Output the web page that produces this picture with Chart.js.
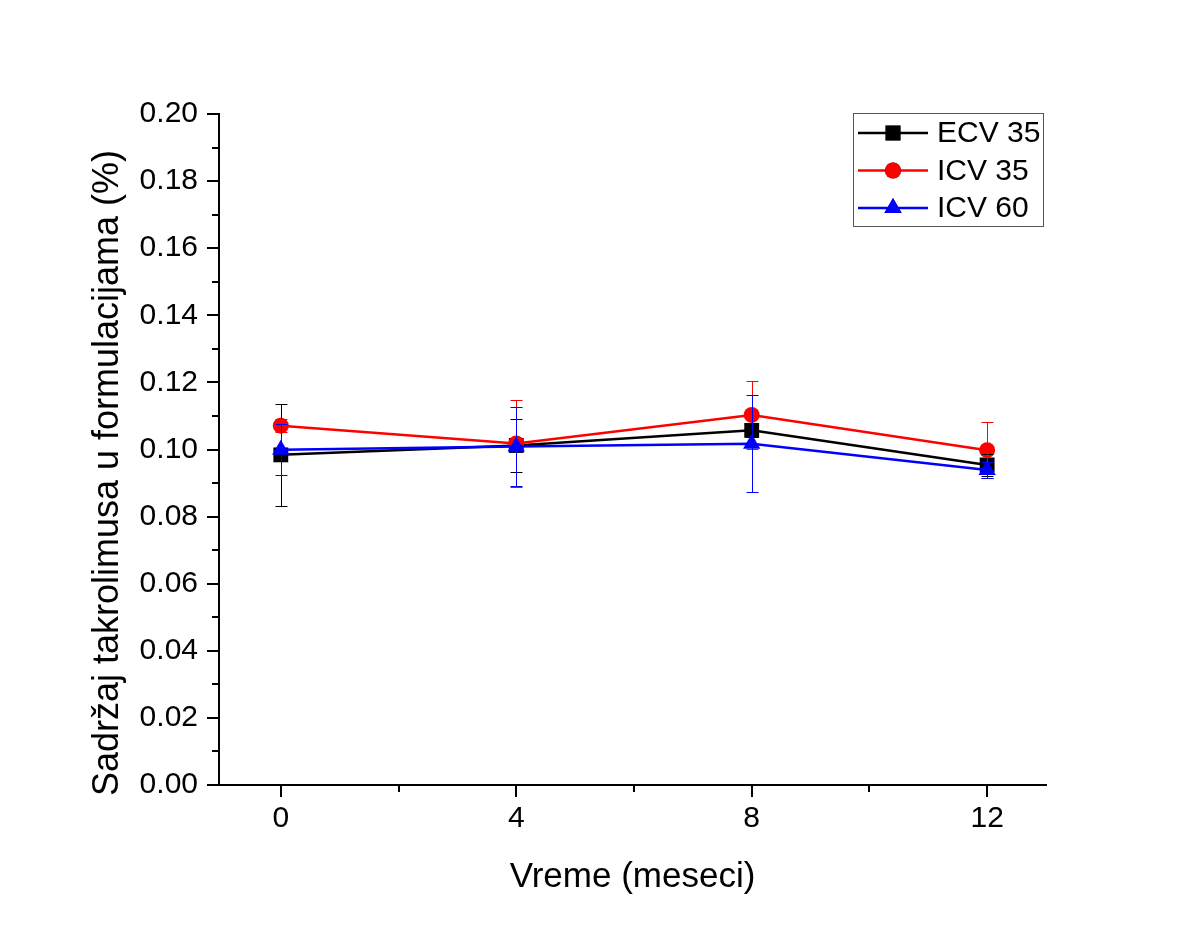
<!DOCTYPE html>
<html>
<head>
<meta charset="utf-8">
<script src="https://cdn.jsdelivr.net/npm/chart.js@4"></script>
<style>
  html, body { margin: 0; padding: 0; background: #fff; }
  #wrap { width: 1202px; height: 928px; }
</style>
</head>
<body>
<div id="wrap"><canvas id="chart" width="1202" height="928"></canvas></div>
<script>
const months = [0, 4, 8, 12];
const xTicks = [0, 4, 8, 12];
const xMinorTicks = [2, 6, 10];

const seriesNames = ["ECV 35", "ICV 35", "ICV 60"];
const ecv35 = [0.0984, 0.1012, 0.1057, 0.0954];
const ecv35Err = [0.0152, 0.0079, 0.0020, 0.0033];
const icv35 = [0.1071, 0.1018, 0.1103, 0.0998];
const icv35Err = [0.0020, 0.0130, 0.0101, 0.0083];
const icv60 = [0.0999, 0.1009, 0.1017, 0.0939];
const icv60Err = [0.0076, 0.0118, 0.0145, 0.0024];

const xTitle = "Vreme (meseci)";
const yTitle = "Sadržaj takrolimusa u formulacijama (%)";

const colors = ["#000000", "#ff0000", "#0000ff"];
const markers = ["rect", "circle", "triangle"];
const markerSize = [10.5, 8, 10];

const FONT = "'Liberation Sans', Arial, sans-serif";

function toPoints(vals) {
    return months.map((m, i) => ({ x: m, y: vals[i] }));
}

const allValues = [ecv35, icv35, icv60];
const allErrors = [ecv35Err, icv35Err, icv60Err];

const datasets = allValues.map((vals, i) => ({
    label: seriesNames[i],
    data: toPoints(vals),
    errors: allErrors[i],
    showLine: true,
    borderColor: colors[i],
    backgroundColor: colors[i],
    borderWidth: 2.5,
    pointStyle: markers[i],
    pointRadius: markerSize[i],
    pointHoverRadius: markerSize[i],
    pointBorderWidth: 0,
    tension: 0,
    order: 3 - i
}));

// error bars drawn on top of the markers, like the original
const errorBars = {
    id: "errorBars",
    afterDatasetsDraw(chart) {
        const ctx = chart.ctx;
        const xs = chart.scales.x, ys = chart.scales.y;
        ctx.save();
        ctx.lineWidth = 1;
        chart.data.datasets.forEach((ds) => {
            ctx.strokeStyle = ds.borderColor;
            ds.data.forEach((p, j) => {
                const e = ds.errors[j];
                const px = Math.round(xs.getPixelForValue(p.x)) + 0.5;
                const top = Math.round(ys.getPixelForValue(p.y + e)) + 0.5;
                const bot = Math.round(ys.getPixelForValue(p.y - e)) + 0.5;
                ctx.beginPath();
                ctx.moveTo(px, top); ctx.lineTo(px, bot);
                ctx.moveTo(px - 6, top); ctx.lineTo(px + 6, top);
                ctx.moveTo(px - 6, bot); ctx.lineTo(px + 6, bot);
                ctx.stroke();
            });
        });
        ctx.restore();
    }
};

// outward major and minor tick marks, plus the y title
const tickMarks = {
    id: "tickMarks",
    afterDraw(chart) {
        const ctx = chart.ctx;
        const xs = chart.scales.x, ys = chart.scales.y;
        const area = chart.chartArea;
        ctx.save();
        ctx.strokeStyle = "#000";
        ctx.lineWidth = 2;
        ctx.beginPath();
        xTicks.forEach(v => {
            const px = Math.round(xs.getPixelForValue(v));
            ctx.moveTo(px, area.bottom); ctx.lineTo(px, area.bottom + 12);
        });
        xMinorTicks.forEach(v => {
            const px = Math.round(xs.getPixelForValue(v));
            ctx.moveTo(px, area.bottom); ctx.lineTo(px, area.bottom + 7);
        });
        for (let k = 0; k <= 20; k++) {
            const py = Math.round(ys.getPixelForValue(k / 100));
            const len = k % 2 === 0 ? 12 : 7;
            ctx.moveTo(area.left, py); ctx.lineTo(area.left - len, py);
        }
        ctx.stroke();

        ctx.translate(118, 473);
        ctx.rotate(-Math.PI / 2);
        ctx.fillStyle = "#000";
        ctx.font = "36px " + FONT;
        ctx.textAlign = "center";
        ctx.textBaseline = "alphabetic";
        ctx.fillText(yTitle, 0, 0);
        ctx.restore();
    }
};

// boxed legend with line + marker samples
const boxLegend = {
    id: "boxLegend",
    afterDraw(chart) {
        const ctx = chart.ctx;
        const x0 = 853, y0 = 113, w = 190, h = 113;
        ctx.save();
        ctx.strokeStyle = "#555";
        ctx.lineWidth = 1;
        ctx.strokeRect(x0 + 0.5, y0 + 0.5, w, h);
        chart.data.datasets.forEach((ds, i) => {
            const cy = y0 + 20 + i * 37.5;
            ctx.strokeStyle = ds.borderColor;
            ctx.lineWidth = 2.5;
            ctx.beginPath();
            ctx.moveTo(x0 + 5, cy); ctx.lineTo(x0 + 75, cy);
            ctx.stroke();
            Chart.helpers.drawPoint(ctx, {
                pointStyle: ds.pointStyle,
                radius: ds.pointRadius,
                borderWidth: 0,
                rotation: 0
            }, x0 + 40, cy);
            ctx.fillStyle = ds.backgroundColor;
            ctx.fill();
            ctx.fillStyle = "#000";
            ctx.font = "30px " + FONT;
            ctx.textBaseline = "middle";
            ctx.textAlign = "left";
            ctx.fillText(ds.label, x0 + 84, cy + 1);
        });
        ctx.restore();
    }
};

new Chart(document.getElementById("chart"), {
    type: "scatter",
    data: { datasets },
    plugins: [errorBars, tickMarks, boxLegend],
    options: {
        responsive: false,
        animation: false,
        devicePixelRatio: 1,
        layout: { padding: { left: 0, right: 156, top: 114, bottom: 0 } },
        plugins: {
            legend: { display: false },
            tooltip: { enabled: false }
        },
        scales: {
            x: {
                type: "linear",
                min: -1.05,
                max: 13.0,
                afterBuildTicks: axis => { axis.ticks = xTicks.map(v => ({ value: v })); },
                afterFit: axis => { axis.height = 143; },
                grid: { display: false, drawTicks: false },
                border: { display: true, color: "#000", width: 2 },
                ticks: {
                    color: "#000",
                    font: { family: FONT, size: 30 },
                    padding: 16,
                    maxRotation: 0,
                    callback: v => String(v)
                },
                title: {
                    display: true,
                    text: xTitle,
                    color: "#000",
                    font: { family: FONT, size: 35 },
                    padding: { top: 30, bottom: 30 }
                }
            },
            y: {
                min: 0,
                max: 0.2,
                afterFit: axis => { axis.width = 219; },
                grid: { display: false, drawTicks: false },
                border: { display: true, color: "#000", width: 2 },
                ticks: {
                    stepSize: 0.02,
                    color: "#000",
                    font: { family: FONT, size: 30 },
                    padding: 21,
                    callback: v => Number(v).toFixed(2)
                },
                title: { display: false }
            }
        }
    }
});
</script>
</body>
</html>
